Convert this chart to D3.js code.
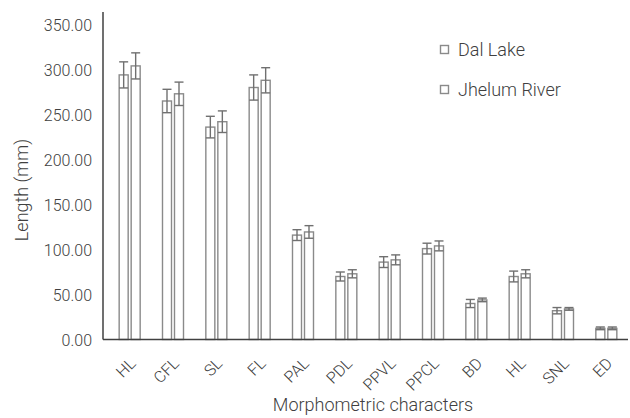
<!DOCTYPE html>
<html>
<head>
<meta charset="utf-8">
<script src="https://cdn.jsdelivr.net/npm/d3@7"></script>
<style>
  html, body { margin: 0; padding: 0; background: #fff; }
  svg text { font-family: Roboto, "Noto Sans", sans-serif; font-weight: 300; fill: #404040; }
</style>
</head>
<body>
<svg id="chart" width="630" height="418"></svg>
<script>
const categories = ["HL", "CFL", "SL", "FL", "PAL", "PDL", "PPVL", "PPCL", "BD", "HL", "SNL", "ED"];
const seriesNames = ["Dal Lake", "Jhelum River"];
const dalMeans   = [294, 265, 236, 280, 116, 70, 86, 101, 40, 70, 32, 12.4];
const dalSD      = [14.5, 13, 12, 14, 6, 5, 6, 6, 4.5, 6, 3.5, 1.5];
const jhelumMeans = [304, 273, 242, 288, 119.5, 73, 88.5, 104, 44, 73, 34, 12.4];
const jhelumSD    = [14.5, 13, 12, 14, 7, 4.5, 5.5, 5.5, 2, 4.5, 1.5, 1.5];
const yTicks = [0, 50, 100, 150, 200, 250, 300, 350];

const svg = d3.select("#chart");
const x0 = d3.scaleBand().domain(d3.range(categories.length)).range([108, 628]).paddingInner(0).paddingOuter(0);
const y = d3.scaleLinear().domain([0, 350]).range([339.5, 24.5]);
const barW = 9, gap = 3;

const series = [
  { name: seriesNames[0], means: dalMeans, sd: dalSD, off: -(barW + gap / 2) },
  { name: seriesNames[1], means: jhelumMeans, sd: jhelumSD, off: gap / 2 }
];

const stroke = "#8a8a8a";

// y tick labels
const yAxis = d3.axisLeft(y).tickValues(yTicks).tickFormat(d3.format(".2f")).tickSize(0).tickPadding(0);
const gy = svg.append("g").attr("transform", "translate(92,0)").call(yAxis);
gy.select(".domain").remove();
gy.selectAll("text").attr("font-size", 16).attr("font-family", null).attr("fill", "#404040").attr("dy", "0.35em");

// bars
series.forEach(s => {
  const g = svg.append("g");
  categories.forEach((c, i) => {
    const cx = x0(i) + x0.bandwidth() / 2;
    const bx = cx + s.off;
    const v = s.means[i];
    g.append("rect")
      .attr("x", bx).attr("y", y(v))
      .attr("width", barW).attr("height", y(0) - y(v))
      .attr("fill", "#fff").attr("stroke", stroke).attr("stroke-width", 1.4);
    const ex = bx + barW / 2;
    const top = y(v + s.sd[i]), bot = y(v - s.sd[i]);
    g.append("line").attr("x1", ex).attr("x2", ex).attr("y1", top).attr("y2", bot)
      .attr("stroke", "#707070").attr("stroke-width", 1.4);
    [top, bot].forEach(yy => g.append("line")
      .attr("x1", bx).attr("x2", bx + barW).attr("y1", yy).attr("y2", yy)
      .attr("stroke", "#707070").attr("stroke-width", 1.4));
  });
});

// axis lines
svg.append("line").attr("x1", 103).attr("x2", 103).attr("y1", 12).attr("y2", 339.5)
  .attr("stroke", "#404040").attr("stroke-width", 1.5);
svg.append("line").attr("x1", 103).attr("x2", 628).attr("y1", 339.5).attr("y2", 339.5)
  .attr("stroke", "#404040").attr("stroke-width", 1.5);

// x tick labels
const xAxis = d3.axisBottom(x0).tickFormat(i => categories[i]).tickSize(0);
const gx = svg.append("g").attr("transform", "translate(0,339.5)").call(xAxis);
gx.select(".domain").remove();
gx.selectAll(".tick text")
  .attr("font-size", 16).attr("font-family", null).attr("fill", "#404040")
  .attr("text-anchor", "end")
  .attr("x", 0).attr("y", 0).attr("dy", 0)
  .attr("transform", "translate(7,25) rotate(-45)");

// axis titles
svg.append("text").attr("x", 373).attr("y", 411).attr("text-anchor", "middle")
  .attr("font-size", 18).text("Morphometric characters");
svg.append("text").attr("transform", "translate(28,190) rotate(-90)").attr("text-anchor", "middle")
  .attr("font-size", 18).text("Length (mm)");

// legend
series.forEach((s, k) => {
  const ly = 50 + k * 40;
  svg.append("rect").attr("x", 440.5).attr("y", ly - 4.5).attr("width", 8).attr("height", 8)
    .attr("fill", "#fff").attr("stroke", stroke).attr("stroke-width", 1.4);
  svg.append("text").attr("x", 458).attr("y", ly).attr("dy", "0.35em")
    .attr("font-size", 18).text(s.name);
});
</script>
</body>
</html>
